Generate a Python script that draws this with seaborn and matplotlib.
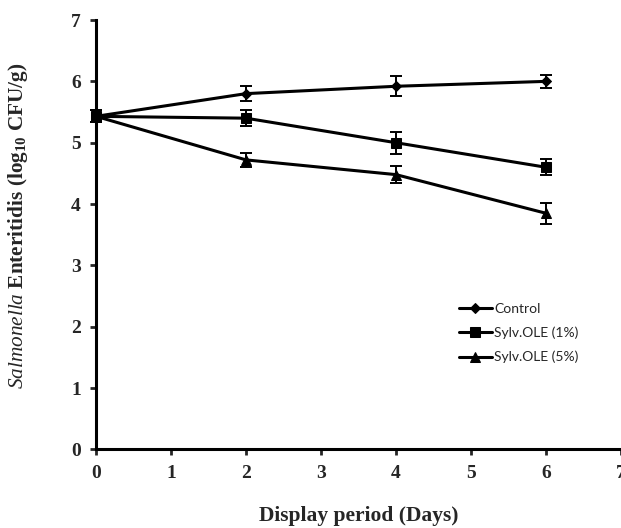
import matplotlib
matplotlib.use('Agg')
import matplotlib.pyplot as plt
import seaborn as sns
import pandas as pd

# values
days = [0, 2, 4, 6]
control = [5.43, 5.80, 5.92, 6.00]
control_err = [0.10, 0.12, 0.16, 0.10]
sylv_1 = [5.43, 5.40, 5.00, 4.60]
sylv_1_err = [0.10, 0.13, 0.18, 0.13]
sylv_5 = [5.43, 4.72, 4.48, 3.85]
sylv_5_err = [0.10, 0.11, 0.14, 0.17]

labels = ['Control', 'Sylv.OLE (1%)', 'Sylv.OLE (5%)']
markers = ['D', 's', '^']
marker_sizes = [8, 8.5, 9.5]
legend_marker_sizes = [5, 6.5, 7]

sns.set_style('ticks')
plt.rcParams['font.family'] = ['Liberation Serif', 'DejaVu Serif']
plt.rcParams['mathtext.fontset'] = 'custom'
plt.rcParams['mathtext.it'] = 'Liberation Serif:italic'
plt.rcParams['mathtext.rm'] = 'Liberation Serif:bold'
plt.rcParams['mathtext.bf'] = 'Liberation Serif:bold'

df = pd.DataFrame({
    'day': days * 3,
    'value': control + sylv_1 + sylv_5,
    'err': control_err + sylv_1_err + sylv_5_err,
    'treatment': [labels[0]] * 4 + [labels[1]] * 4 + [labels[2]] * 4,
})

fig = plt.figure(figsize=(6.21, 5.28), dpi=100)
ax = fig.add_axes([0.1546, 0.1487, 0.8454, 0.8134])

for lab, mk, ms in zip(labels, markers, marker_sizes):
    sub = df[df['treatment'] == lab]
    sns.lineplot(data=sub, x='day', y='value', ax=ax, color='black',
                 linewidth=2.2, marker=mk, markersize=ms, markeredgecolor='black',
                 label=lab, clip_on=False, zorder=3)
    ax.errorbar(sub['day'], sub['value'], yerr=sub['err'], fmt='none',
                ecolor='black', elinewidth=1.4, capsize=4, capthick=1.4,
                clip_on=False, zorder=2)

ax.set_xlim(0, 7)
ax.set_ylim(0, 7)
ax.set_xticks(range(0, 8))
ax.set_yticks(range(0, 8))
ax.tick_params(axis='both', direction='out', length=4, width=2,
               labelsize=14, pad=7)
for t in ax.get_xticklabels() + ax.get_yticklabels():
    t.set_fontweight('bold')

sns.despine(ax=ax)
for side in ['left', 'bottom']:
    ax.spines[side].set_linewidth(2.2)
    ax.spines[side].set_color('black')

ax.set_xlabel('Display period (Days)', fontsize=15.5, fontweight='bold')
ax.set_ylabel(r'$\mathit{Salmonella}$ Enteritidis (log$_{10}$ CFU/g)',
              fontsize=15.3, fontweight='bold')
ax.xaxis.set_label_coords(0.5, -0.132)
ax.yaxis.set_label_coords(-0.125, 0.52)

handles, hl = ax.get_legend_handles_labels()
for h, lms in zip(handles, legend_marker_sizes):
    h.set_markersize(lms)
    h.set_linewidth(2.2)
leg = ax.legend(handles, hl, frameon=False, loc='center left',
                bbox_to_anchor=(0.691, 0.271), borderpad=0, borderaxespad=0,
                handlelength=2.4, handletextpad=0.15, labelspacing=0.85,
                prop={'family': 'Lato', 'size': 10})

fig.savefig('out.png', dpi=100)
